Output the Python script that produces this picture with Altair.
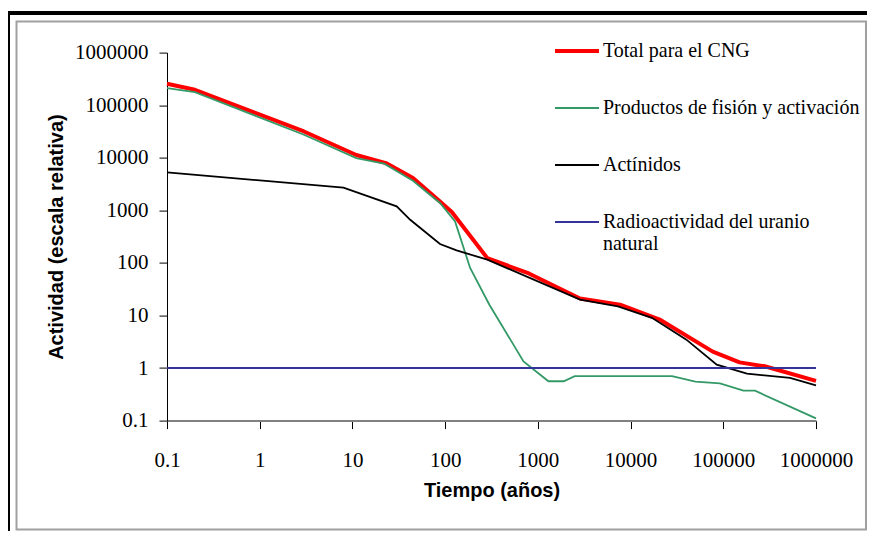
import altair as alt
import pandas as pd

# ---- data ----
series_names = [
    "Total para el CNG",
    "Productos de fisión y activación",
    "Actínidos",
    "Radioactividad del uranio natural",
]
series_colors = ["#ff0000", "#339966", "#000000", "#333399"]

years_total = [0.1, 0.2, 3, 11, 23, 45, 88, 118, 285, 800, 2850, 7700, 21000, 77000, 150000, 280000, 1000000]
total = [255000, 196000, 31600, 11300, 7900, 4100, 1475, 930, 123, 63, 21, 16, 8.2, 2.05, 1.28, 1.08, 0.57]

years_fp = [0.1, 0.2, 3, 11, 22, 45, 88, 128, 186, 300, 700, 1300, 1900, 2500, 28000, 50000, 92000, 165000, 220000, 1000000]
fission = [211000, 177000, 27400, 9860, 7700, 3650, 1380, 615, 80, 16, 1.34, 0.56, 0.56, 0.70, 0.70, 0.55, 0.51, 0.37, 0.37, 0.11]

years_act = [0.1, 8, 30, 42, 88, 133, 285, 2850, 7300, 17000, 40000, 85000, 180000, 525000, 1000000]
actinides = [5250, 2700, 1190, 660, 228, 173, 115, 20, 14.9, 9.0, 3.47, 1.16, 0.78, 0.65, 0.47]

years_u = [0.1, 1000000]
uranium = [1, 1]

tick_values = [0.1, 1, 10, 100, 1000, 10000, 100000, 1000000]

# ---- tables ----
rows = []
for k, (name, xs, ys) in enumerate([
    (series_names[0], years_total, total),
    (series_names[1], years_fp, fission),
    (series_names[2], years_act, actinides),
    (series_names[3], years_u, uranium),
]):
    for i, (x, y) in enumerate(zip(xs, ys)):
        rows.append({"serie": name, "k": k, "t": x, "v": y, "i": i})
df = pd.DataFrame(rows)

legend = alt.Legend(
    title=None,
    orient="none",
    legendX=390,
    legendY=-11.6,
    symbolType="stroke",
    symbolSize=1936,
    symbolOffset=10,
    labelOffset=16,
    symbolStrokeWidth={"expr": "datum.value == 'Total para el CNG' ? 4 : 2"},
    labelFont="Liberation Serif",
    labelFontSize=20,
    labelColor="#000000",
    labelLimit=400,
    labelExpr="datum.label == 'Radioactividad del uranio natural' ? ['Radioactividad del uranio', 'natural'] : datum.label",
)

color = alt.Color(
    "serie:N",
    scale=alt.Scale(domain=series_names, range=series_colors),
    legend=legend,
)

axis_common = dict(
    values=tick_values,
    format=".1~f",
    grid=False,
    tickColor="#000000",
    tickSize=8,
    tickWidth=1,
    labelFont="Liberation Serif",
    labelFontSize=21,
    labelColor="#000000",
    labelFlush=False,
    labelOverlap=False,
    titleFont="Liberation Sans",
    titleFontSize=20,
    titleFontWeight="bold",
    titleColor="#000000",
)

xenc = alt.X(
    "t:Q",
    scale=alt.Scale(type="log", domain=[0.1, 1000000], nice=False),
    axis=alt.Axis(
        title="Tiempo (años)",
        domainColor="#808080",
        domainWidth=2,
        labelBaseline="alphabetic",
        labelPadding=38,
        titleBaseline="alphabetic",
        titleY=76,
        **axis_common,
    ),
)
yenc = alt.Y(
    "v:Q",
    scale=alt.Scale(type="log", domain=[0.1, 1000000], nice=False),
    axis=alt.Axis(
        title="Actividad (escala relativa)",
        domainColor="#000000",
        domainWidth=1,
        labelPadding=11,
        titleBaseline="alphabetic",
        titleX=-105,
        **axis_common,
    ),
)

base = alt.Chart(df)
total_line = base.transform_filter(alt.datum.k == 0).mark_line(
    strokeWidth=4, strokeJoin="round"
).encode(x=xenc, y=yenc, color=color, order="i:Q")
other_lines = base.transform_filter(alt.datum.k > 0).mark_line(
    strokeWidth=1.8
).encode(x=xenc, y=yenc, color=color, order="i:Q", detail="serie:N")

# decorative frame (outside the plot area)
one = pd.DataFrame({"a": [0]})
frame = alt.Chart(one).mark_rect(
    fill=None, stroke="#a0a0a0", strokeWidth=2
).encode(x=alt.value(-150.5), x2=alt.value(699), y=alt.value(-31.1), y2=alt.value(477))
black_top = alt.Chart(one).mark_rule(
    color="#000000", strokeWidth=4
).encode(x=alt.value(-159), x2=alt.value(700), y=alt.value(-39.6))
black_left = alt.Chart(one).mark_rule(
    color="#000000", strokeWidth=4
).encode(x=alt.value(-159), y=alt.value(-41.6), y2=alt.value(480))

chart = alt.layer(frame, black_top, black_left, total_line, other_lines).properties(
    width=649,
    height=368,
    padding={"left": 159, "top": 44.6, "right": 51, "bottom": 110},
    autosize=alt.AutoSizeParams(type="none"),
    background="#ffffff",
).configure_view(stroke=None).configure_legend(
    padding=0,
    rowPadding=37,
)

chart.save("out.html", embed_options={"renderer": "svg", "actions": False})
